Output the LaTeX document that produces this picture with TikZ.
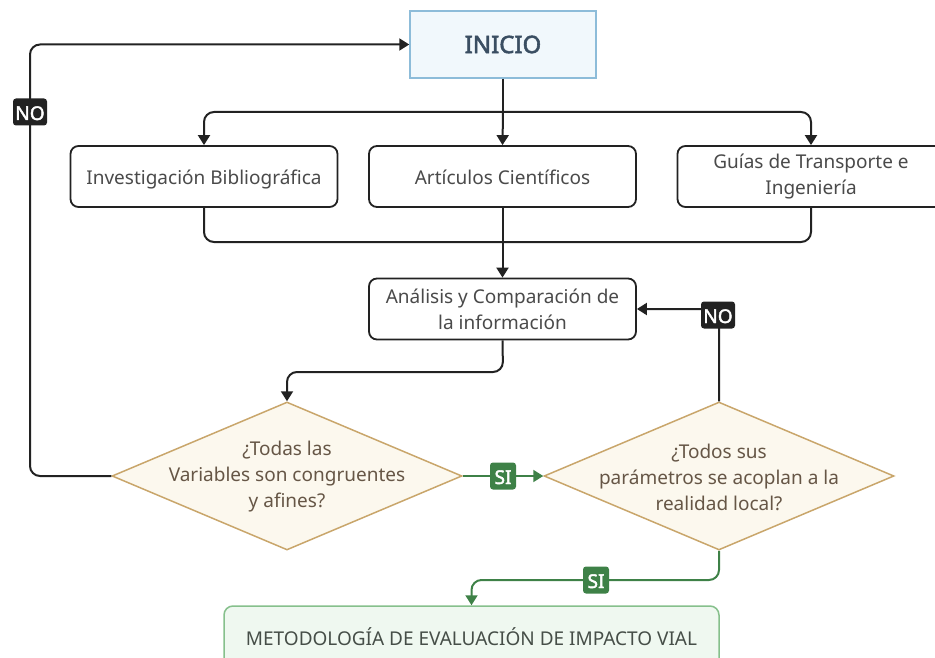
\documentclass[tikz,border=0pt]{standalone}
\usepackage{fontspec}
\setmainfont{Noto Sans}
\newfontfamily\heavyfont{Noto Sans}[FakeBold=2.2]
\usetikzlibrary{shapes.geometric,arrows.meta}
\definecolor{inkdark}{HTML}{222222}
\definecolor{txtgray}{HTML}{4A4A4A}
\definecolor{startfill}{HTML}{F1F8FC}
\definecolor{startline}{HTML}{8DBCD9}
\definecolor{starttext}{HTML}{3A4E62}
\definecolor{decfill}{HTML}{FCF8EE}
\definecolor{decline}{HTML}{C9A66B}
\definecolor{dectext}{HTML}{665646}
\definecolor{endfill}{HTML}{EFF8F0}
\definecolor{endline}{HTML}{86C08C}
\definecolor{endtext}{HTML}{464E48}
\definecolor{okgreen}{HTML}{3E8147}
\tikzset{
  x=1pt, y=-1pt,
  every node/.style={font=\fontsize{19}{26}\selectfont, align=center, inner sep=0pt},
  oneline/.style={text height=17pt, text depth=1pt},
  procbox/.style={draw=inkdark, line width=1.8pt, rounded corners=8pt, fill=white,
    text=txtgray, minimum width=267pt, minimum height=61pt},
  startbox/.style={draw=startline, line width=1.5pt, fill=startfill, text=starttext,
    minimum width=186pt, minimum height=67pt, font=\heavyfont\fontsize{24}{26}\selectfont},
  decision/.style={diamond, draw=decline, line width=1.5pt, fill=decfill,
    aspect=2.36, minimum width=350pt, minimum height=148pt},
  dectxt/.style={text=dectext},
  endbox/.style={draw=endline, line width=1.5pt, rounded corners=9pt, fill=endfill,
    text=endtext, minimum width=495pt, minimum height=62pt},
  flow/.style={draw=inkdark, line width=2pt, rounded corners=10pt, -{Triangle[length=10pt,width=12pt]}},
  plain/.style={draw=inkdark, line width=2pt, rounded corners=10pt},
  okflow/.style={draw=okgreen, line width=2pt, rounded corners=10pt, -{Triangle[length=10pt,width=12pt]}},
  nolabel/.style={fill=inkdark, text=white, rounded corners=3pt, minimum width=34pt,
    minimum height=27pt, font=\heavyfont\fontsize{19}{20}\selectfont},
  silabel/.style={fill=okgreen, text=white, rounded corners=3pt, minimum width=26pt,
    minimum height=27pt, font=\heavyfont\fontsize{19}{20}\selectfont},
}
\begin{document}
\begin{tikzpicture}
\useasboundingbox (0,0) rectangle (935,658);

% nodes
\node[startbox] (inicio) at (503,44.5) {INICIO};
\node[procbox, oneline] (bib) at (204,176.5) {Investigación Bibliográfica};
\node[procbox, oneline] (art) at (502.5,176.5) {Artículos Científicos};
\node[procbox] (guia) at (811,176.5) {Guías de Transporte e\\Ingeniería};
\node[procbox] (ana) at (502.5,309) {Análisis y Comparación de\\la información};
\node[decision] (d1) at (287,476) {};
\node[dectxt] (d1t) at (287,477) {¿Todas las\\Variables son congruentes\\y afines?};
\node[decision] (d2) at (719,476) {};
\node[dectxt] (d2t) at (719,477) {¿Todos sus\\parámetros se acoplan a la\\realidad local?};
\node[endbox, oneline] (meto) at (471.5,637) {METODOLOGÍA DE EVALUACIÓN DE IMPACTO VIAL};

% branch points
\coordinate (split) at (503,112);
\coordinate (join) at (503,242);

% fan out from INICIO
\draw[plain] (inicio.south) -- (split);
\draw[flow] (split) -| (bib.north);
\draw[flow] (split) -- (art.north);
\draw[flow] (split) -| (guia.north);

% merge into analysis
\draw[plain] (bib.south) |- (join);
\draw[plain] (guia.south) |- (join);
\draw[flow] (art.south) -- (ana.north);

% analysis to first decision
\draw[flow] (ana.south) -- (503,372) -| (d1.north);

% first decision: NO back to start
\draw[flow] (d1.west) -| (30,44.5) -- (inicio.west);
\node[nolabel, oneline] (no1) at (30,112) {NO};

% first decision: SI to second decision
\draw[okflow] (d1.east) -- (d2.west);
\node[silabel, oneline] (si1) at (503,476) {SI};

% second decision: NO back to analysis
\draw[flow] (d2.north) |- (ana.east);
\node[nolabel, oneline] (no2) at (718,315) {NO};

% second decision: SI to methodology
\draw[okflow] (d2.south) -- (719,580) -| (meto.north);
\node[silabel, oneline] (si2) at (596,580) {SI};
\end{tikzpicture}
\end{document}
